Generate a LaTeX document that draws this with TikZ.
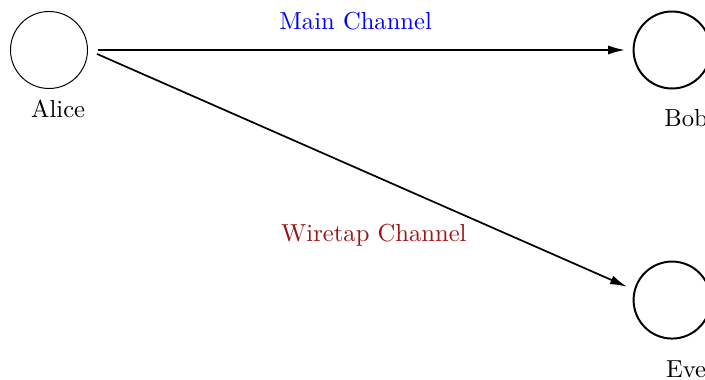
\documentclass[tikz,border=0pt]{standalone}
\usepackage{xcolor}
\usetikzlibrary{arrows.meta,positioning}
\definecolor{tapred}{rgb}{0.6,0.08,0.08}

\begin{document}
\begin{tikzpicture}[every node/.style={font=\normalsize}]
  \useasboundingbox (0,0) rectangle (10.07,-5.414);
  \node[draw, circle, thin, minimum size=1.1cm] (alice) at (0.7,-0.714) {};
  \node[draw, circle, thick, minimum size=1.1cm] (bob) at (9.6,-0.714) {};
  \node[draw, circle, thick, minimum size=1.1cm] (eve) at (9.6,-4.286) {};
  \node (alicelbl) at (0.83,-1.55) {Alice};
  \node (boblbl) at (9.8,-1.69) {Bob};
  \node (evelbl) at (9.8,-5.27) {Eve};
  \draw[-{Latex[length=2.4mm,width=1.3mm]}, semithick, line width=0.7pt, shorten <=0.14cm, shorten >=0.11cm] (alice.east) -- (bob.west);
  \draw[-{Latex[length=2.4mm,width=1.3mm]}, semithick, line width=0.7pt, shorten <=0.14cm, shorten >=0.11cm] (alice.east) -- (eve.165);
  \node[text=blue] (mainlbl) at (5.08,-0.3) {Main Channel};
  \node[text=tapred] (taplbl) at (5.34,-3.36) {Wiretap Channel};
\end{tikzpicture}
\end{document}
